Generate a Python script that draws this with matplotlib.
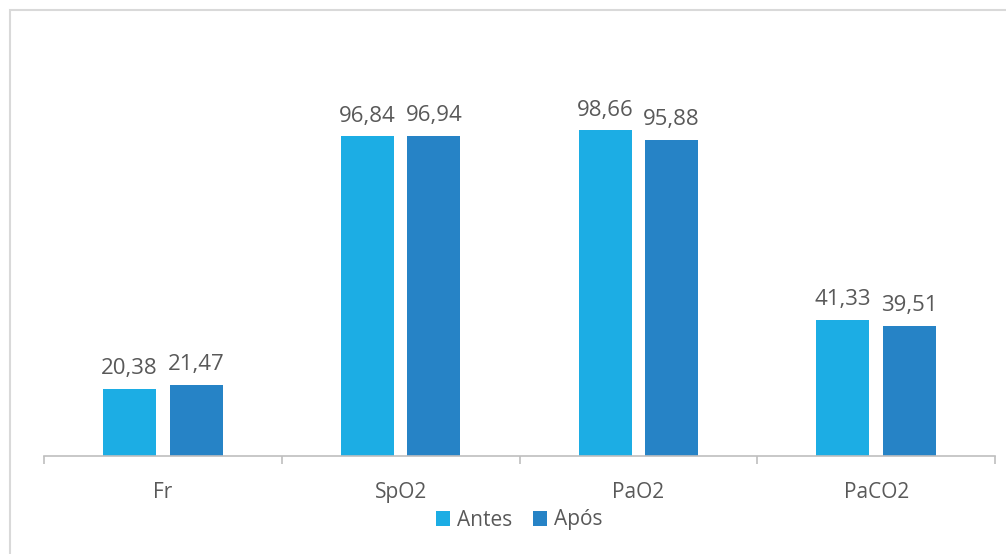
import matplotlib
matplotlib.use("Agg")
import matplotlib.pyplot as plt
import numpy as np
from matplotlib.patches import Rectangle

categories = ['Fr', 'SpO2', 'PaO2', 'PaCO2']
antes = [20.38, 96.84, 98.66, 41.33]
apos = [21.47, 96.94, 95.88, 39.51]

plt.rcParams['font.family'] = ['Open Sans', 'DejaVu Sans']

W, H = 1006, 554
fig = plt.figure(figsize=(W / 100, H / 100), dpi=100)

# chart area border
fig.patches.append(Rectangle((10 / W, -0.1), 1.2, (H - 10) / H + 0.1,
                             transform=fig.transFigure, fill=False,
                             edgecolor='#d9d9d9', lw=1.5))

ax = fig.add_axes([44 / W, (H - 456) / H, (995 - 44) / W, 396 / H])

x = np.arange(len(categories))
width = 0.223
off = 0.14
b1 = ax.bar(x - off, antes, width, color='#1CADE4', label='Antes')
b2 = ax.bar(x + off, apos, width, color='#2683C6', label='Após')

for bars in (b1, b2):
    for rect in bars:
        v = rect.get_height()
        ax.annotate(f'{v:.2f}'.replace('.', ','),
                    (rect.get_x() + rect.get_width() / 2, v),
                    xytext=(0, 7), textcoords='offset points',
                    ha='center', va='bottom', fontsize=16, color='#595959')

ax.set_xlim(-0.5, 3.5)
ax.set_ylim(0, 120)
ax.set_yticks([])
ax.set_xticks(x)
ax.set_xticklabels(categories, fontsize=15, color='#595959')
ax.set_xticks(np.arange(-0.5, 4, 1), minor=True)
ax.tick_params(axis='x', which='major', length=0, pad=19)
ax.tick_params(axis='x', which='minor', length=6, color='#bfbfbf', width=1.2)
for s in ('top', 'right', 'left'):
    ax.spines[s].set_visible(False)
ax.spines['bottom'].set_color('#bfbfbf')
ax.spines['bottom'].set_linewidth(1.2)

leg = fig.legend(loc='center', bbox_to_anchor=(519 / W, (H - 520) / H),
                 ncol=2, frameon=False, fontsize=15, handlelength=0.7,
                 handleheight=0.7, handletextpad=0.3, columnspacing=1.0)
for t in leg.get_texts():
    t.set_color('#595959')

fig.savefig('out.png', dpi=100)
